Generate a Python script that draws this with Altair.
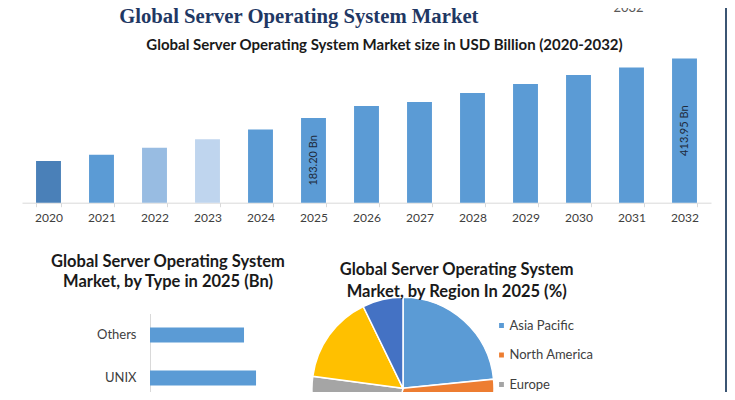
import altair as alt
import pandas as pd

# ---------------- data ----------------
years = ["2020", "2021", "2022", "2023", "2024", "2025", "2026",
         "2027", "2028", "2029", "2030", "2031", "2032"]
market_size = [15.6, 40.0, 67.1, 100.8, 138.4, 183.20, 229.9,
               245.4, 280.3, 315.1, 350.0, 379.8, 413.95]
bar_colors = ["#4a80b8", "#5b9bd5", "#98bce2", "#bfd5ee", "#5b9bd5", "#5b9bd5", "#5b9bd5",
              "#5b9bd5", "#5b9bd5", "#5b9bd5", "#5b9bd5", "#5b9bd5", "#5b9bd5"]
bar_labels = ["", "", "", "", "", "183.20 Bn", "", "", "", "", "", "", "413.95 Bn"]

types = ["Others", "UNIX"]
type_values = [40.7, 45.9]

regions = ["Asia Pacific", "North America", "Europe", "Middle East and Africa", "South America"]
region_share = [23.4, 30.2, 23.5, 15.7, 7.2]
region_order = [0, 1, 2, 3, 4]
region_colors = ["#5b9bd5", "#ed7d31", "#a5a5a5", "#ffc000", "#4472c4"]

main_title = "Global Server Operating System Market"
corner_year = "2032"
sub_title = "Global Server Operating System Market size in USD Billion (2020-2032)"
type_title = "Global Server Operating System\nMarket, by Type in 2025 (Bn)"
region_title = "Global Server Operating System\nMarket, by Region In 2025 (%)"

Y_MIN = -146
FONT = "Lato"
W, H = 719, 384

# ---------------- top bar chart ----------------
df_years = pd.DataFrame({"year": years, "size": market_size,
                         "color": bar_colors, "label": bar_labels})

x_year = alt.X("year:N", sort=years,
               scale=alt.Scale(range=[14, 703], paddingInner=0.53, paddingOuter=0.265),
               axis=alt.Axis(orient="bottom", offset=194.7 - H, title=None, labelAngle=0,
                             labelFont=FONT, labelFontSize=12, labelColor="#404040",
                             domainColor="#d9d9d9", tickColor="#d9d9d9", tickSize=4,
                             labelPadding=6, tickBand="extent", grid=False))
y_scale = alt.Scale(domain=[Y_MIN, 428], range=[194.7, 47], zero=False, nice=False)

bars = alt.Chart(df_years).mark_bar().encode(
    x=x_year,
    y=alt.Y("size:Q", scale=y_scale, axis=None),
    y2=alt.datum(Y_MIN),
    color=alt.Color("color:N", scale=None, legend=None),
)

bar_text = alt.Chart(df_years).transform_filter(
    "datum.label != ''"
).transform_calculate(
    mid=f"(datum.size + ({Y_MIN})) / 2"
).mark_text(angle=270, font=FONT, fontSize=11, color="#1e2a3a",
            align="center", baseline="middle").encode(
    x=x_year,
    y=alt.Y("mid:Q", scale=y_scale, axis=None),
    text="label:N",
)

top = alt.layer(bars, bar_text)

# ---------------- type bar chart ----------------
df_types = pd.DataFrame({"type": types, "value": type_values})
type_bars = alt.Chart(df_types).mark_bar(color="#5b9bd5").encode(
    y=alt.Y("type:N", sort=types,
            scale=alt.Scale(range=[305.5, 391.5], paddingInner=0.65, paddingOuter=0.325),
            axis=alt.Axis(orient="left", offset=-142, title=None, ticks=False,
                          labelFont=FONT, labelFontSize=13, labelColor="#404040",
                          domainColor="#d9d9d9", labelPadding=14, grid=False)),
    x=alt.X("value:Q", scale=alt.Scale(domain=[0, 50], range=[142, 257.5], nice=False),
            axis=None),
)

# ---------------- pie ----------------
df_regions = pd.DataFrame({"region": regions, "share": region_share, "order": region_order})
pie = alt.Chart(df_regions).mark_arc(radius=91, stroke="white", strokeWidth=1.5).encode(
    theta=alt.Theta("share:Q", stack=True),
    order=alt.Order("order:Q"),
    color=alt.Color("region:N", sort=regions,
                    scale=alt.Scale(domain=regions, range=region_colors),
                    legend=alt.Legend(title=None, orient="none", legendX=487, legendY=311,
                                      symbolType="square", symbolSize=40,
                                      labelFont=FONT, labelFontSize=13, labelColor="#404040",
                                      rowPadding=15.5, labelOffset=1.5, padding=0)),
    x=alt.value(395),
    y=alt.value(380.3),
)


# ---------------- text ----------------
def text_mark(txt, x, y, **kw):
    return alt.Chart(pd.DataFrame({"t": [txt]})).mark_text(**kw).encode(
        text="t:N", x=alt.value(x), y=alt.value(y))


t_main = text_mark(main_title, 290.8, 14.5, font="Liberation Serif", fontWeight="bold",
                   fontSize=20.7, color="#1f3864", align="center", baseline="alphabetic")
t_year = text_mark(corner_year, 620.5, 4, font=FONT, fontSize=13, color="#595959",
                   align="center", baseline="alphabetic")
t_sub = text_mark(sub_title, 376.5, 41.5, font=FONT, fontWeight="bold", fontSize=15,
                  color="#1a1a1a", align="center", baseline="alphabetic")
t_type = text_mark(type_title, 160, 258.7, font=FONT, fontWeight="bold", fontSize=16.5,
                   color="#1a1a1a", align="center", baseline="alphabetic",
                   lineBreak="\n", lineHeight=20)
t_region = text_mark(region_title, 448.7, 267, font=FONT, fontWeight="bold", fontSize=16.5,
                     color="#1a1a1a", align="center", baseline="alphabetic",
                     lineBreak="\n", lineHeight=21.5)

border = alt.Chart(pd.DataFrame({"b": [0]})).mark_rule(color="#3b5573", strokeWidth=2).encode(
    x=alt.value(W - 1), y=alt.value(0), y2=alt.value(H))

chart = alt.layer(
    top, type_bars, pie, t_main, t_year, t_sub, t_type, t_region, border
).resolve_scale(
    x="independent", y="independent", color="independent"
).properties(
    width=W, height=H, padding=0,
    autosize=alt.AutoSizeParams(type="none"),
    background="white",
).configure_view(stroke=None)

chart.save("out.html", embed_options={"renderer": "svg", "actions": False})
